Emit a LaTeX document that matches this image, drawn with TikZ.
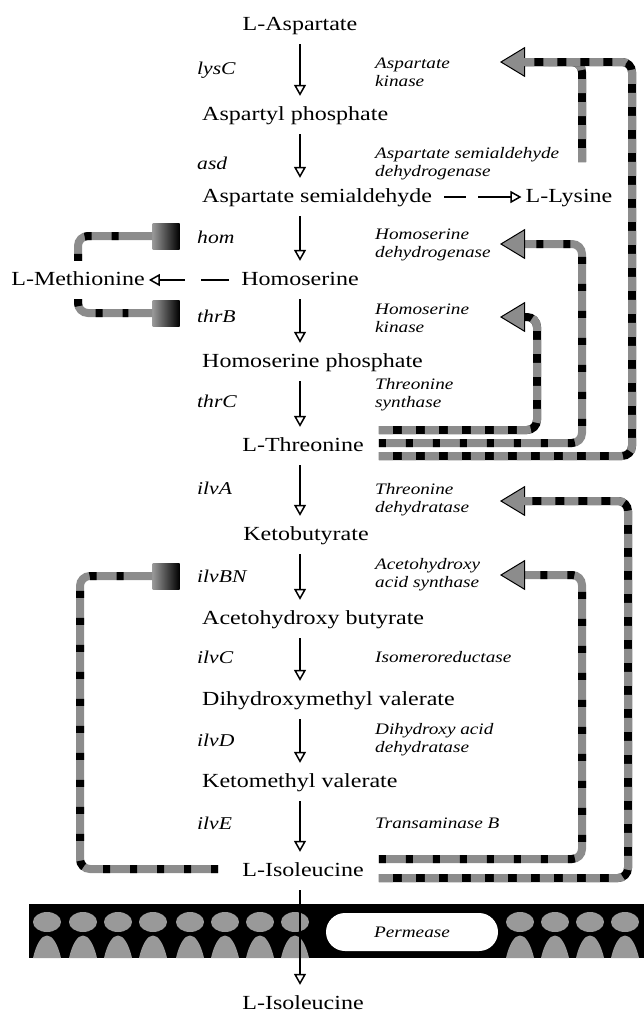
\documentclass[tikz,border=0pt]{standalone}
\usepackage{fontspec}
\setmainfont[FakeStretch=1.2]{Liberation Serif}
\usetikzlibrary{arrows.meta, positioning, calc}

\begin{document}
\begin{tikzpicture}[
    x=1pt, y=-1pt,
    metab/.style={inner xsep=4pt, inner ysep=10pt, text height=14pt, text depth=4pt, font=\fontsize{20}{22}\selectfont},
    gene/.style={anchor=west, inner sep=0pt, font=\fontsize{18}{20}\selectfont\itshape},
    enzyme/.style={anchor=west, inner sep=0pt, align=left, font=\fontsize{16}{18}\selectfont\itshape},
    arrow/.style={-{Triangle[open, length=11pt, width=12pt, line width=1.5pt]}, line width=1.6pt},
    fb/.style={line width=8pt, rounded corners=10pt, draw=black!45, postaction={draw=black, -, shorten >=24pt, dash pattern=on 7pt off 20pt}},
    fbdark/.style={line width=8pt, rounded corners=10pt, draw=black, postaction={draw=black!45, -, shorten >=24pt, dash pattern=on 14pt off 9pt}},
    fbtip/.style={-{Triangle[length=25pt, width=30pt, fill=black!45, color=black, line width=1pt]}},
    inhib/.style={rectangle, minimum width=27pt, minimum height=26pt, left color=black!40, right color=black},
    pill/.style={rectangle, rounded corners=19pt, fill=white, minimum width=172pt, minimum height=38pt, font=\fontsize{16}{18}\selectfont\itshape}
]
\useasboundingbox (0,0) rectangle (644,1020);

% Pathway metabolites
\node[metab] (asp) at (300,25) {L-Aspartate};
\node[metab, anchor=west] (aspp) at (198,115) {Aspartyl phosphate};
\node[metab, anchor=west] (asa) at (198,197) {Aspartate semialdehyde};
\node[metab] (lys) at (569,197) {L-Lysine};
\node[metab] (hser) at (300,280) {Homoserine};
\node[metab] (met) at (78,280) {L-Methionine};
\node[metab, anchor=west] (hserp) at (198,362) {Homoserine phosphate};
\node[metab] (thr) at (303,446) {L-Threonine};
\node[metab] (kbut) at (306,535) {Ketobutyrate};
\node[metab, anchor=west] (ahb) at (198,619) {Acetohydroxy butyrate};
\node[metab, anchor=west] (dhmv) at (198,700) {Dihydroxymethyl valerate};
\node[metab, anchor=west] (kmv) at (198,782) {Ketomethyl valerate};
\node[metab] (ile) at (303,871) {L-Isoleucine};
\node[metab] (ileout) at (303,1004) {L-Isoleucine};

% Genes
\node[gene] (glysC) at (197,70) {lysC};
\node[gene] (gasd) at (197,163) {asd};
\node[gene] (ghom) at (197,237) {hom};
\node[gene] (gthrB) at (197,316) {thrB};
\node[gene] (gthrC) at (197,401) {thrC};
\node[gene] (gilvA) at (197,488) {ilvA};
\node[gene] (gilvBN) at (197,576) {ilvBN};
\node[gene] (gilvC) at (197,657) {ilvC};
\node[gene] (gilvD) at (197,740) {ilvD};
\node[gene] (gilvE) at (197,823) {ilvE};

% Enzymes
\node[enzyme] (ak) at (375,72) {Aspartate\\kinase};
\node[enzyme] (asdh) at (375,164) {Aspartate semialdehyde\\dehydrogenase};
\node[enzyme] (hdh) at (375,245) {Homoserine\\dehydrogenase};
\node[enzyme] (hk) at (375,318) {Homoserine\\kinase};
\node[enzyme] (ts) at (375,395) {Threonine\\synthase};
\node[enzyme] (td) at (375,500) {Threonine\\dehydratase};
\node[enzyme] (ahas) at (375,575) {Acetohydroxy\\acid synthase};
\node[enzyme] (ir) at (375,657) {Isomeroreductase};
\node[enzyme] (dhad) at (375,740) {Dihydroxy acid\\dehydratase};
\node[enzyme] (tb) at (375,823) {Transaminase B};

% Main pathway arrows
\coordinate (col) at (300,0);
\draw[arrow] (asp.south -| col) -- (aspp.north -| col);
\draw[arrow] (aspp.south -| col) -- (asa.north -| col);
\draw[arrow] (asa.south -| col) -- (hser.north -| col);
\draw[arrow] (hser.south -| col) -- (hserp.north -| col);
\draw[arrow] (hserp.south -| col) -- (thr.north -| col);
\draw[arrow] (thr.south -| col) -- (kbut.north -| col);
\draw[arrow] (kbut.south -| col) -- (ahb.north -| col);
\draw[arrow] (ahb.south -| col) -- (dhmv.north -| col);
\draw[arrow] (dhmv.south -| col) -- (kmv.north -| col);
\draw[arrow] (kmv.south -| col) -- (ile.north -| col);

% Branches
\draw[arrow, dash pattern=on 22pt off 12pt on 100pt off 1pt] ([xshift=8pt]asa.east) -- (lys.west);
\draw[arrow, dash pattern=on 28pt off 16pt on 100pt off 1pt] ([xshift=-8pt]hser.west) -- (met.east);

% Membrane with permease
\begin{scope}
\clip (29,904) rectangle (644,958);
\fill[black] (29,904) rectangle (644,958);
\foreach \bx in {47,83,118,153,190,225,260,295,520,555,590,625,660} {
  \fill[black!40] (\bx,922) ellipse [x radius=14pt, y radius=10pt];
  \fill[black!40] ({\bx-14},958) .. controls ({\bx-7},928) and ({\bx+7},928) .. ({\bx+14},958) -- cycle;
}
\end{scope}
\node[pill] (perm) at (412,932) {Permease};
\draw[arrow] (ile.south -| col) -- (ileout.north -| col);

% Feedback targets
\coordinate (akin) at (500,62);
\coordinate (hdin) at (500,244);
\coordinate (hkin) at (500,317);
\coordinate (tdin) at (500,501);
\coordinate (ahin) at (500,575);
\coordinate (c1) at (537,0);
\coordinate (c2) at (582,0);
\coordinate (c3) at (632,0);
\coordinate (c4) at (628,0);
\coordinate (lcol) at (80,0);
\coordinate (lysup) at (582,162);
\coordinate (akjoin) at (520,62);
\coordinate (thrt1) at ([xshift=11pt,yshift=16pt]thr.east);
\coordinate (thrt2) at ([xshift=11pt,yshift=3pt]thr.east);
\coordinate (thrt3) at ([xshift=11pt,yshift=-10pt]thr.east);
\coordinate (ilet1) at ([xshift=11pt,yshift=12pt]ile.east);
\coordinate (ilet2) at ([xshift=11pt,yshift=-7pt]ile.east);
\coordinate (ilel) at ([xshift=-20pt,yshift=2pt]ile.west);

% Inhibition squares
\node[inhib] (homsq) at (166,236) {};
\node[inhib] (thrBsq) at (166,313) {};
\node[inhib] (ilvsq) at (166,576) {};

% Feedback loops
\draw[fbdark] (lysup) |- (akjoin);
\draw[fbdark, fbtip] (thrt1) -| (hkin -| c1) -- (hkin);
\draw[fb, fbtip] (thrt2) -| (hdin -| c2) -- (hdin);
\draw[fbdark, fbtip] (thrt3) -| (akin -| c3) -- (akin);
\draw[fb, fbtip] (ilet1) -| (ahin -| c2) -- (ahin);
\draw[fbdark, fbtip] (ilet2) -| (tdin -| c4) -- (tdin);
\draw[fb] (ilel) -| (lcol |- ilvsq) -- (ilvsq.west);
\draw[fb] (met.north) |- (homsq.west);
\draw[fb] (met.south) |- (thrBsq.west);
\end{tikzpicture}
\end{document}
